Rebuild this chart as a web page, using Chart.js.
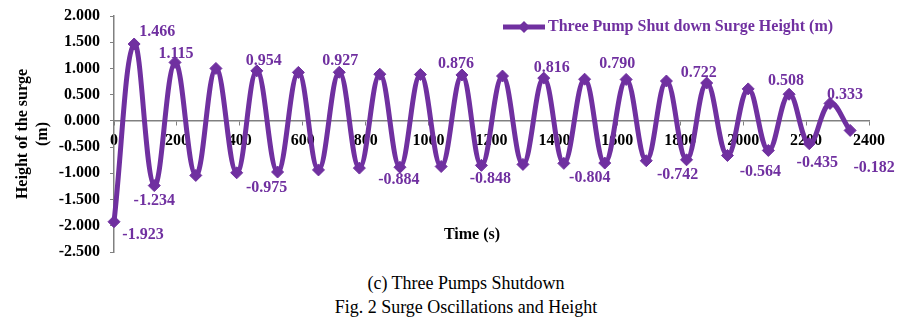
<!DOCTYPE html>
<html>
<head>
<meta charset="utf-8">
<script src="https://cdn.jsdelivr.net/npm/chart.js@4.4.1/dist/chart.umd.min.js"></script>
<style>
    body { margin: 0; background: #fff; width: 923px; height: 326px; position: relative; overflow: hidden; }
    #wrap { position: absolute; left: 0; top: 0; width: 923px; height: 273px; }
    .cap { position: absolute; left: 0; width: 932px; text-align: center; font-family: 'Liberation Serif', 'Times New Roman', serif; font-size: 18px; color: #000; line-height: 20px; }
</style>
</head>
<body>
<div id="wrap"><canvas id="surgeChart" width="923" height="273"></canvas></div>
<div class="cap" style="top: 273px;">(c) Three Pumps Shutdown</div>
<div class="cap" style="top: 297px;">Fig. 2 Surge Oscillations and Height</div>
<script>
// time (s) of each turning point
var times = [0, 64, 128, 194, 260, 324, 390, 454, 520, 586, 650, 716, 780, 845, 909, 974,
    1040, 1106, 1168, 1235, 1300, 1366, 1430, 1496, 1560, 1628, 1692, 1756, 1820, 1884,
    1950, 2016, 2080, 2146, 2210, 2276, 2340];
// surge height (m)
var surge = [-1.923, 1.466, -1.234, 1.115, -1.040, 1.000, -0.990, 0.954, -0.975, 0.925,
    -0.935, 0.927, -0.900, 0.890, -0.884, 0.885, -0.870, 0.876, -0.848, 0.855, -0.830,
    0.816, -0.810, 0.795, -0.804, 0.790, -0.760, 0.760, -0.742, 0.722, -0.660, 0.610,
    -0.564, 0.508, -0.435, 0.333, -0.182];
var xTicks = [0, 200, 400, 600, 800, 1000, 1200, 1400, 1600, 1800, 2000, 2200, 2400];
var yTicks = [-2.5, -2.0, -1.5, -1.0, -0.5, 0, 0.5, 1.0, 1.5, 2.0];
var seriesName = 'Three Pump Shut down Surge Height (m)';

var purple = '#7030A0';
var serif = "'Liberation Serif', 'Times New Roman', serif";

// which points carry a value label, and how far the label sits from the marker
var labelOffsets = {
    0: [29, 13], 1: [23, -12], 2: [0, 15], 3: [1, -9], 7: [7, -10], 8: [-11, 16],
    11: [1, -11], 14: [-1, 13], 17: [-6, -11], 18: [9, 13], 21: [8, -10], 24: [-15, 15],
    25: [-9, -16], 28: [-9, 15], 29: [-8, -10], 32: [-8, 21], 33: [-3, -13], 34: [8, 19],
    35: [15, -9], 36: [24, 37]
};

var points = times.map(function(t, i) { return { x: t, y: surge[i] }; });

var extras = {
    id: 'extras',
    afterDatasetsDraw: function(chart) {
        var ctx = chart.ctx;
        var meta = chart.getDatasetMeta(0);
        ctx.save();
        ctx.font = 'bold 16px ' + serif;
        ctx.fillStyle = purple;
        ctx.textAlign = 'center';
        ctx.textBaseline = 'middle';
        Object.keys(labelOffsets).forEach(function(k) {
            var el = meta.data[k];
            var off = labelOffsets[k];
            ctx.fillText(surge[k].toFixed(3), el.x + off[0], el.y + off[1]);
        });

        // legend
        var ly = 27;
        ctx.strokeStyle = purple;
        ctx.lineWidth = 5;
        ctx.beginPath();
        ctx.moveTo(503, ly);
        ctx.lineTo(545, ly);
        ctx.stroke();
        ctx.beginPath();
        ctx.moveTo(524, ly - 6);
        ctx.lineTo(530, ly);
        ctx.lineTo(524, ly + 6);
        ctx.lineTo(518, ly);
        ctx.closePath();
        ctx.fill();
        ctx.textAlign = 'left';
        ctx.fillText(seriesName, 548, ly);

        // x axis title
        ctx.fillStyle = '#000';
        ctx.textAlign = 'center';
        ctx.fillText('Time (s)', 472, 235);
        ctx.restore();
    }
};

new Chart(document.getElementById('surgeChart').getContext('2d'), {
    type: 'line',
    data: {
        datasets: [{
            label: seriesName,
            data: points,
            borderColor: purple,
            backgroundColor: purple,
            borderWidth: 5,
            tension: 0.4,
            clip: false,
            pointStyle: 'rectRot',
            pointRadius: 6,
            pointBorderWidth: 1,
            pointBackgroundColor: purple,
            pointBorderColor: purple,
            fill: false
        }]
    },
    options: {
        responsive: false,
        animation: false,
        layout: { padding: { left: 10, right: 54, top: 16, bottom: 21 } },
        plugins: {
            legend: { display: false },
            tooltip: { enabled: false }
        },
        scales: {
            x: {
                type: 'linear',
                position: { y: 0 },
                min: xTicks[0],
                max: xTicks[xTicks.length - 1],
                afterBuildTicks: function(s) { s.ticks = xTicks.map(function(v) { return { value: v }; }); },
                ticks: {
                    color: '#000',
                    font: { family: serif, size: 16, weight: 'bold' },
                    padding: 6,
                    maxRotation: 0,
                    callback: function(v) { return String(v); }
                },
                grid: { drawOnChartArea: false, color: '#808080', tickLength: 4 },
                border: { color: '#808080', width: 1.5 }
            },
            y: {
                min: yTicks[0],
                max: yTicks[yTicks.length - 1],
                afterBuildTicks: function(s) { s.ticks = yTicks.map(function(v) { return { value: v }; }); },
                afterFit: function(s) {
                    s.width = 104;
                    s.paddingTop = 0;
                    s.paddingBottom = 0;
                },
                ticks: {
                    color: '#000',
                    font: { family: serif, size: 16, weight: 'bold' },
                    padding: 10,
                    callback: function(v) { return v.toFixed(3); }
                },
                grid: { drawOnChartArea: false, color: '#808080', tickLength: 4 },
                border: { color: '#808080', width: 1.5 },
                title: {
                    display: true,
                    text: ['Height of the surge', '(m)'],
                    color: '#000',
                    font: { family: serif, size: 16, weight: 'bold', lineHeight: 1.25 },
                    padding: { top: 3, bottom: 0 }
                }
            }
        }
    },
    plugins: [extras]
});
</script>
</body>
</html>
